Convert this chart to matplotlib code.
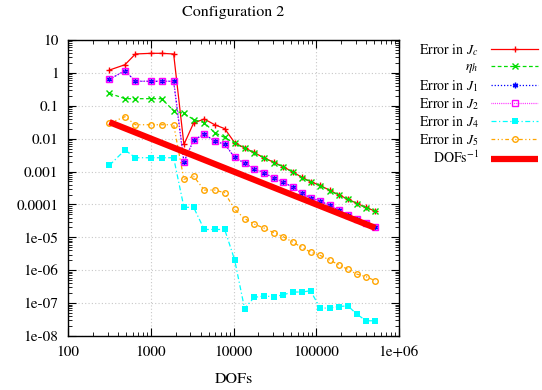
import matplotlib
matplotlib.use("Agg")
import matplotlib.pyplot as plt
from matplotlib.ticker import LogLocator, FixedLocator, FixedFormatter, NullFormatter

plt.rcParams['font.family'] = ['STIXGeneral', 'DejaVu Serif']
plt.rcParams['mathtext.fontset'] = 'stix'

# degrees of freedom per refinement step
dofs = [315, 485, 649, 1003, 1346, 1882, 2506, 3283, 4411, 5907, 7800,
        10300, 13580, 17690, 23240, 30700, 40000, 51660, 66970, 85300,
        111100, 144800, 186200, 241200, 308200, 401300, 518400]

err_jc = [1.22, 1.77, 3.75, 3.93, 3.93, 3.75, 0.00664, 0.0299, 0.0395, 0.0265,
          0.0201, 0.00753, 0.0052, 0.0038, 0.00262, 0.0019, 0.00139, 0.00098,
          0.00067, 0.00049, 0.00038, 0.00027, 0.000196, 0.000145, 0.000108,
          8.1e-5, 6.2e-5]
eta_h = [0.239, 0.164, 0.164, 0.164, 0.164, 0.0708, 0.0582, 0.0382, 0.0305,
         0.0152, 0.01084, 0.00722, 0.00508, 0.00373, 0.00258, 0.00188, 0.00137,
         0.000966, 0.000657, 0.00048, 0.000376, 0.000265, 0.000193, 0.000143,
         0.000106, 7.94e-5, 6.17e-5]
err_j1 = [0.638, 1.16, 0.555, 0.555, 0.555, 0.555, 0.00195, 0.0091, 0.01355,
          0.00847, 0.00678, 0.0027, 0.00179, 0.00122, 0.000915, 0.000635,
          0.00048, 0.000331, 0.000218, 0.000157, 0.000127, 9.39e-5, 6.76e-5,
          4.66e-5, 3.67e-5, 2.77e-5, 2.01e-5]
err_j2 = [0.64, 1.17, 0.556, 0.556, 0.556, 0.556, 0.00196, 0.0091, 0.0136,
          0.0085, 0.0068, 0.0027, 0.0018, 0.00122, 0.00092, 0.000637,
          0.000481, 0.000332, 0.000219, 0.000158, 0.000127, 9.4e-5, 6.78e-5,
          4.67e-5, 3.68e-5, 2.78e-5, 2.02e-5]
err_j4 = [0.00155, 0.00452, 0.00263, 0.00263, 0.00263, 0.00263, 8.17e-5,
          8.17e-5, 1.73e-5, 1.73e-5, 1.73e-5, 2.04e-6, 6.82e-8, 1.49e-7,
          1.64e-7, 1.56e-7, 1.79e-7, 2.17e-7, 2.17e-7, 2.37e-7, 7.06e-8,
          7.06e-8, 7.85e-8, 8.25e-8, 4.64e-8, 2.9e-8, 2.9e-8]
err_j5 = [0.0293, 0.0465, 0.0265, 0.0265, 0.0265, 0.0265, 0.00058, 0.000716,
          0.000274, 0.000274, 0.000227, 7.1e-5, 3.72e-5, 2.53e-5, 1.92e-5,
          1.38e-5, 1.04e-5, 7.18e-6, 4.95e-6, 3.56e-6, 2.83e-6, 2.04e-6,
          1.47e-6, 1.06e-6, 7.64e-7, 6.33e-7, 4.77e-7]

# reference slope line C * DOFs^-1
ref_const = 10.0
ref_line = [ref_const / n for n in dofs]

xticks = [100, 1000, 10000, 100000, 1000000]
xtick_labels = ['100', '1000', '10000', '100000', '1e+06']
yticks = [10, 1, 0.1, 0.01, 0.001, 0.0001, 1e-5, 1e-6, 1e-7, 1e-8]
ytick_labels = ['10', '1', '0.1', '0.01', '0.001', '0.0001',
                '1e-05', '1e-06', '1e-07', '1e-08']

fig = plt.figure(figsize=(5.42, 3.90), dpi=100)
ax = fig.add_axes([0.126, 0.1385, 0.610, 0.759])

ax.plot(dofs, err_jc, color='#ff0000', lw=0.9, marker='+', ms=5, mew=1.0,
        label='Error in $J_c$')
ax.plot(dofs, eta_h, color='#00dd00', lw=0.9, ls=(0, (3, 2)), marker='x',
        ms=4, mew=1.0, label=r'$\eta_h$')
ax.plot(dofs, err_j1, color='#0000ff', lw=0.9, ls=(0, (1, 1.5)), marker=(6, 2, 0),
        ms=4, mew=1.0, label='Error in $J_1$')
ax.plot(dofs, err_j2, color='#ff00ff', lw=0.9, ls=(0, (0.6, 0.9)), marker='s',
        ms=4.2, mew=1.0, mfc='none', label='Error in $J_2$')
ax.plot(dofs, err_j4, color='#00ffff', lw=0.9, ls=(0, (4, 2, 1, 2)), marker='s',
        ms=4.5, mew=0, label='Error in $J_4$')
ax.plot(dofs, err_j5, color='#ffa500', lw=0.9, ls=(0, (3, 2, 1, 2, 1, 2)),
        marker='o', ms=4, mew=1.0, mfc='none', label='Error in $J_5$')
ax.plot(dofs, ref_line, color='#ff0000', lw=4.5, solid_capstyle='butt',
        label='DOFs$^{-1}$')

ax.set_xscale('log')
ax.set_yscale('log')
ax.set_xlim(100, 1e6)
ax.set_ylim(1e-8, 10)

ax.xaxis.set_major_locator(FixedLocator(xticks))
ax.xaxis.set_major_formatter(FixedFormatter(xtick_labels))
ax.yaxis.set_major_locator(FixedLocator(yticks))
ax.yaxis.set_major_formatter(FixedFormatter(ytick_labels))
for axis in (ax.xaxis, ax.yaxis):
    axis.set_minor_locator(LogLocator(base=10, subs=range(2, 10), numticks=100))
    axis.set_minor_formatter(NullFormatter())

ax.tick_params(which='both', direction='in', top=True, right=True,
               labelsize=11, colors='black')
ax.tick_params(which='major', length=6, width=0.8, pad=7)
ax.tick_params(which='minor', length=3, width=0.6)
ax.grid(True, which='major', color='#c8c8c8', ls=(0, (1, 2)), lw=0.8)
for s in ax.spines.values():
    s.set_linewidth(1.0)

ax.set_title('Configuration 2', fontsize=11.5, pad=17)
ax.set_xlabel('DOFs', fontsize=11.5, labelpad=10)

ax.legend(loc='upper right', bbox_to_anchor=(0.993, 0.892),
          bbox_transform=fig.transFigure, frameon=False,
          markerfirst=False, fontsize=10, handlelength=3.4, handletextpad=0.9,
          labelspacing=0.16, borderaxespad=0, borderpad=0)

fig.savefig('out.png', dpi=100)
